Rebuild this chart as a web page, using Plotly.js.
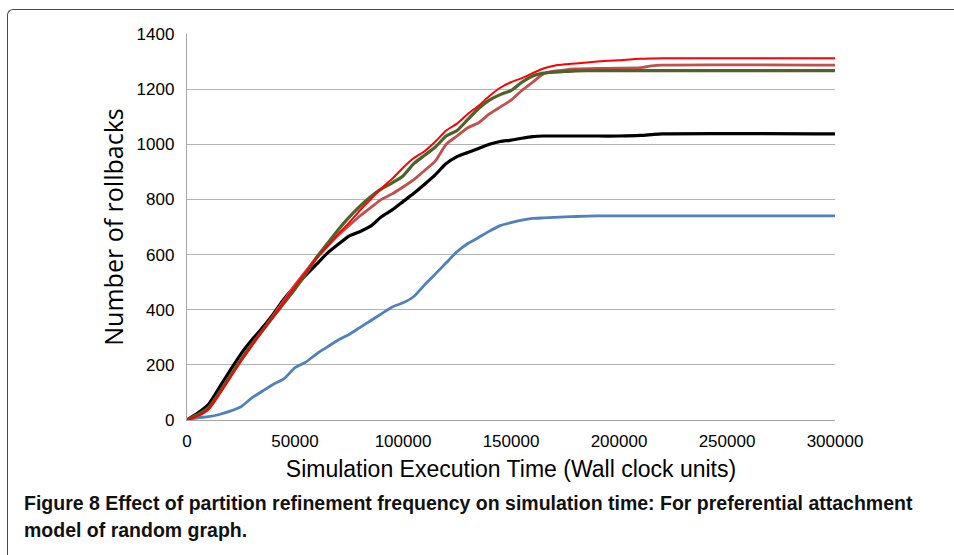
<!DOCTYPE html>
<html>
<head>
<meta charset="utf-8">
<script src="https://cdn.plot.ly/plotly-3.0.1.min.js"></script>
<style>
  html, body { margin: 0; padding: 0; background: #fff; }
  #wrap { position: relative; width: 954px; height: 555px; overflow: hidden; }
  #frame { position: absolute; left: 7px; top: 9px; width: 1000px; height: 600px;
           border-top: 1.5px solid #4a4a4a; border-left: 1.5px solid #4a4a4a; border-top-left-radius: 6px; }
  #chart { position: absolute; left: 0; top: 0; width: 954px; height: 555px; }
</style>
</head>
<body>
<div id="wrap">
  <div id="frame"></div>
  <div id="chart"></div>
</div>
<script>
// Simulation execution time (wall clock units)
const timeA = [0,5000,10000,15000,20000,25000,30000,35000,40000,45000,50000,55000,60000,65000,70000,75000,80000,85000,90000,95000,100000,105000,110000,115000,120000,125000,130000,135000,140000,145000,150000,155000,160000,165000,170000,175000,180000,190000,200000,210000,215000,220000,300000];

// Number of rollbacks per series
const blueVals  = [0,8,12,20,32,48,80,105,130,150,190,210,240,265,290,310,335,360,385,410,425,448,490,530,570,610,640,662,685,705,716,725,731,733,735,737,738,740,740,740,740,740,740];
const blackVals = [0,25,57,118,180,240,290,335,385,440,485,525,565,605,637,667,683,703,737,762,792,822,855,890,930,955,970,985,1000,1010,1015,1022,1028,1030,1030,1030,1030,1030,1030,1032,1035,1038,1038];
const roseVals  = [0,15,40,95,155,215,270,325,380,435,490,540,590,630,670,705,740,770,800,820,845,872,905,940,1000,1030,1060,1078,1110,1135,1160,1195,1225,1255,1265,1270,1273,1275,1276,1278,1284,1287,1287];
const greenVals = [0,20,45,100,160,220,275,325,375,425,475,530,590,640,690,735,775,810,838,860,885,930,960,990,1030,1050,1090,1130,1160,1180,1195,1225,1248,1258,1262,1264,1266,1267,1267,1267,1267,1267,1267];
const redVals   = [0,15,40,95,155,215,270,325,375,430,485,535,585,630,675,715,760,800,840,875,915,950,975,1010,1050,1075,1110,1140,1175,1205,1225,1240,1258,1275,1285,1290,1293,1300,1305,1310,1311,1312,1312];

const xTicks = [0,50000,100000,150000,200000,250000,300000];
const xTickText = ['0','50000','100000','150000','200000','250000','300000'];
const yTicks = [0,200,400,600,800,1000,1200,1400];

const seriesList = [
  {y: blueVals,  color: '#4f81bd', width: 2.8},
  {y: blackVals, color: '#000000', width: 3.2},
  {y: roseVals,  color: '#c0504d', width: 2.8},
  {y: greenVals, color: '#4f6228', width: 3.2},
  {y: redVals,   color: '#ff0000', width: 2}
];

const traces = seriesList.map(s => ({
  x: timeA, y: s.y, type: 'scatter', mode: 'lines',
  line: {color: s.color, width: s.width, shape: 'spline', smoothing: 0.6},
  hoverinfo: 'skip', showlegend: false
}));

const L = 187, R = 835, T = 34, B = 420;
const pw = R - L, ph = B - T;
const px = v => (v - L) / pw;
const py = v => (B - v) / ph;

const layout = {
  width: 954, height: 555,
  margin: {l: L, r: 954 - R, t: T, b: 555 - B, pad: 0},
  paper_bgcolor: 'rgba(0,0,0,0)',
  plot_bgcolor: 'rgba(0,0,0,0)',
  showlegend: false,
  xaxis: {
    range: [0, 300000], tickvals: xTicks, ticktext: xTickText,
    showgrid: false, zeroline: false, showline: true, linecolor: '#a6a6a6', linewidth: 1.2,
    ticks: '', ticklabelstandoff: 5,
    tickfont: {family: 'Liberation Sans, Arial, sans-serif', size: 17, color: '#000'},
    title: {text: 'Simulation Execution Time (Wall clock units)', standoff: 11,
            font: {family: 'Liberation Sans Narrow, Arial Narrow, Liberation Sans, sans-serif', size: 23, color: '#000'}}
  },
  yaxis: {
    range: [0, 1400], tickvals: yTicks,
    showgrid: true, gridcolor: '#b3b3b3', gridwidth: 1.2,
    zeroline: false, showline: true, linecolor: '#a6a6a6', linewidth: 1.2,
    ticks: '', ticklabelstandoff: 8,
    tickfont: {family: 'Liberation Sans, Arial, sans-serif', size: 17, color: '#000'},
    title: {text: 'Number of rollbacks', standoff: 5,
            font: {family: 'Open Sans, Noto Sans, sans-serif', size: 25, color: '#000'}}
  },
  annotations: [
    {text: '<b>Figure 8 Effect of partition refinement frequency on simulation time: For preferential attachment</b>',
     xref: 'paper', yref: 'paper', x: px(22), y: py(503), xanchor: 'left', yanchor: 'middle',
     showarrow: false, font: {family: 'Liberation Sans Narrow, Arial Narrow, sans-serif', size: 19.5, color: '#111'}},
    {text: '<b>model of random graph.</b>',
     xref: 'paper', yref: 'paper', x: px(22), y: py(530), xanchor: 'left', yanchor: 'middle',
     showarrow: false, font: {family: 'Liberation Sans Narrow, Arial Narrow, sans-serif', size: 19.5, color: '#111'}}
  ]
};

Plotly.newPlot('chart', traces, layout, {displayModeBar: false, staticPlot: true});
</script>
</body>
</html>
